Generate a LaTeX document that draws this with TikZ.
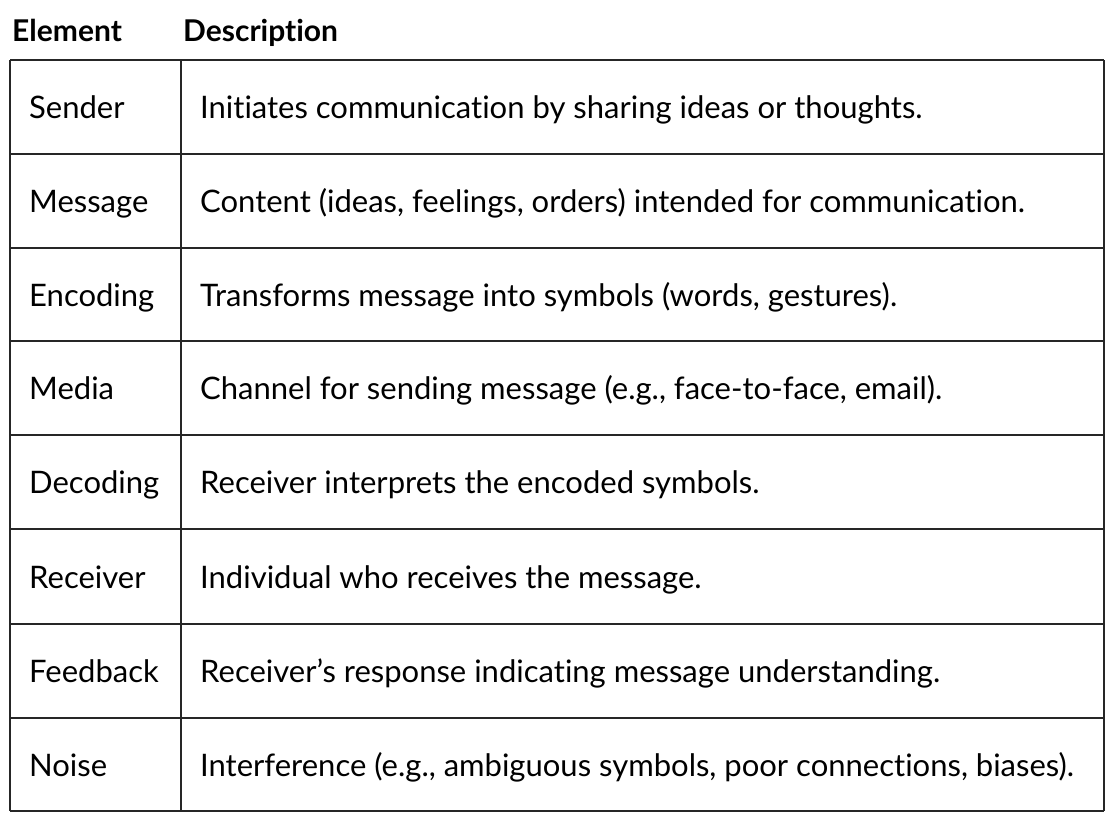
\documentclass[tikz,border=0pt]{standalone}
\usepackage{fontspec}
\setmainfont[RawFeature=-liga]{Lato}
\begin{document}
\begin{tikzpicture}[x=1pt,y=-1pt,
  cell/.style={anchor=base west,font=\fontsize{31}{34}\selectfont,inner sep=0pt},
  head/.style={anchor=base west,font=\fontsize{30}{34}\selectfont\bfseries,inner sep=0pt},
  grid/.style={line width=1.3pt,black!85}]
\useasboundingbox (0,0) rectangle (1120,830);
\node[head] (h1) at (12,41) {Element};
\node[head] (h2) at (183,41) {Description};
\def\ys{60,154,248,341,435,529,624,718,811}
\foreach \y in \ys {\draw[grid] (10,\y) -- (1104,\y);}
\draw[grid] (10,60) -- (10,811);
\draw[grid] (181,60) -- (181,811);
\draw[grid] (1104,60) -- (1104,811);
\foreach \i/\y/\a/\b in {
 1/107/Sender/{Initiates communication by sharing ideas or thoughts.},
 2/201/Message/{Content (ideas, feelings, orders) intended for communication.},
 3/295/Encoding/{Transforms message into symbols (words, gestures).},
 4/388/Media/{Channel for sending message (e.g., face-to-face, email).},
 5/482/Decoding/{Receiver interprets the encoded symbols.},
 6/577/Receiver/{Individual who receives the message.},
 7/671/Feedback/{Receiver’s response indicating message understanding.},
 8/765/Noise/{Interference (e.g., ambiguous symbols, poor connections, biases).}}
{
 \node[cell] (a\i) at (29,\y+11) {\a};
 \node[cell] (b\i) at (200,\y+11) {\b};
}
\end{tikzpicture}
\end{document}
